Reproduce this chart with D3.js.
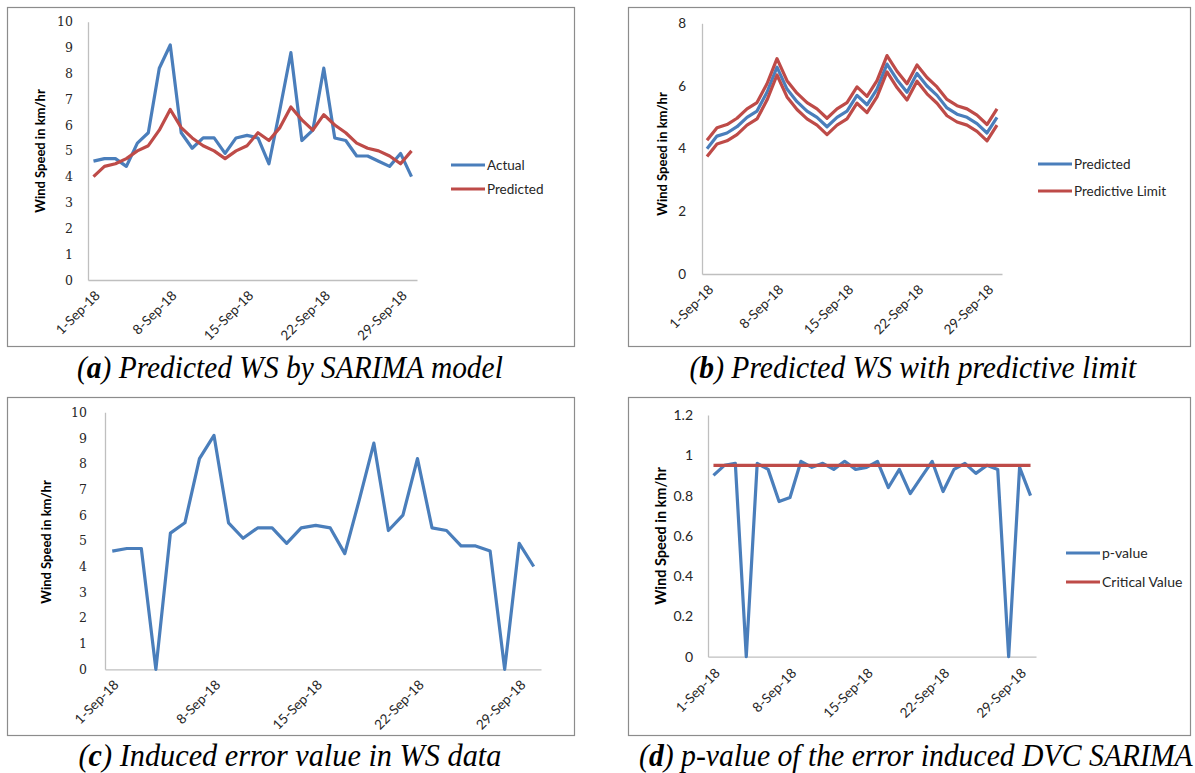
<!DOCTYPE html>
<html>
<head>
<meta charset="utf-8">
<script src="https://cdn.jsdelivr.net/npm/d3@7"></script>
<style>
  html, body { margin: 0; padding: 0; background: #ffffff; }
  svg { display: block; }
</style>
</head>
<body>
<svg id="fig" width="1195" height="773"></svg>
<script>
// ---- Data -------------------------------------------------------------
const dates = [
  "1-Sep-18", "2-Sep-18", "3-Sep-18", "4-Sep-18", "5-Sep-18", "6-Sep-18",
  "7-Sep-18", "8-Sep-18", "9-Sep-18", "10-Sep-18", "11-Sep-18", "12-Sep-18",
  "13-Sep-18", "14-Sep-18", "15-Sep-18", "16-Sep-18", "17-Sep-18", "18-Sep-18",
  "19-Sep-18", "20-Sep-18", "21-Sep-18", "22-Sep-18", "23-Sep-18", "24-Sep-18",
  "25-Sep-18", "26-Sep-18", "27-Sep-18", "28-Sep-18", "29-Sep-18", "30-Sep-18"
];
const dateTicks = ["1-Sep-18", "8-Sep-18", "15-Sep-18", "22-Sep-18", "29-Sep-18"];

// Observed wind speed (km/hr)
const actualWS = [4.6, 4.7, 4.7, 4.4, 5.3, 5.7, 8.2, 9.1, 5.7, 5.1,
                  5.5, 5.5, 4.9, 5.5, 5.6, 5.5, 4.5, 6.6, 8.8, 5.4,
                  5.8, 8.2, 5.5, 5.4, 4.8, 4.8, 4.6, 4.4, 4.9, 4.0];
// SARIMA forecast (km/hr)
const predictedWS = [4.0, 4.4, 4.5, 4.7, 5.0, 5.2, 5.8, 6.6, 5.9, 5.5,
                     5.2, 5.0, 4.7, 5.0, 5.2, 5.7, 5.4, 5.9, 6.7, 6.2,
                     5.8, 6.4, 6.0, 5.7, 5.3, 5.1, 5.0, 4.8, 4.5, 5.0];
// Upper and lower predictive limits
const upperLimit = [4.27, 4.67, 4.77, 4.97, 5.27, 5.47, 6.07, 6.87, 6.17, 5.77,
                    5.47, 5.27, 4.97, 5.27, 5.47, 5.97, 5.67, 6.17, 6.97, 6.47,
                    6.07, 6.67, 6.27, 5.97, 5.57, 5.37, 5.27, 5.07, 4.77, 5.27];
const lowerLimit = [3.75, 4.15, 4.25, 4.45, 4.75, 4.95, 5.55, 6.35, 5.65, 5.25,
                    4.95, 4.75, 4.45, 4.75, 4.95, 5.45, 5.15, 5.65, 6.45, 5.95,
                    5.55, 6.15, 5.75, 5.45, 5.05, 4.85, 4.75, 4.55, 4.25, 4.75];
// Wind speed series with induced errors (zeroed readings)
const errorInducedWS = [4.6, 4.7, 4.7, 0.0, 5.3, 5.7, 8.2, 9.1, 5.7, 5.1,
                        5.5, 5.5, 4.9, 5.5, 5.6, 5.5, 4.5, 6.6, 8.8, 5.4,
                        6.0, 8.2, 5.5, 5.4, 4.8, 4.8, 4.6, 0.0, 4.9, 4.0];
// DVC SARIMA p-values and critical value
const pValues = [0.90, 0.95, 0.96, 0.00, 0.96, 0.93, 0.77, 0.79, 0.97, 0.94,
                 0.96, 0.93, 0.97, 0.93, 0.94, 0.97, 0.84, 0.93, 0.81, 0.89,
                 0.97, 0.82, 0.93, 0.96, 0.91, 0.95, 0.93, 0.00, 0.94, 0.80];
const criticalValue = [0.95, 0.95, 0.95, 0.95, 0.95, 0.95, 0.95, 0.95, 0.95, 0.95,
                       0.95, 0.95, 0.95, 0.95, 0.95, 0.95, 0.95, 0.95, 0.95, 0.95,
                       0.95, 0.95, 0.95, 0.95, 0.95, 0.95, 0.95, 0.95, 0.95, 0.95];

const ticksWS10 = [0, 1, 2, 3, 4, 5, 6, 7, 8, 9, 10];
const ticksWS8 = [0, 2, 4, 6, 8];
const ticksP = [0, 0.2, 0.4, 0.6, 0.8, 1, 1.2];

// ---- Styling ----------------------------------------------------------
const BLUE = "#4a7ebb";
const RED = "#be4b48";
const AXIS = "#bfbfbf";
const FRAME = "#8c8c8c";
const SANS = "Lato, 'Open Sans', sans-serif";
const SERIF_DIGITS = "'DejaVu Serif', serif";

const svg = d3.select("#fig");

function drawPanel(o) {
  const g = svg.append("g");

  // outer frame
  g.append("rect")
    .attr("x", o.box[0] + 0.5).attr("y", o.box[1] + 0.5)
    .attr("width", o.box[2]).attr("height", o.box[3])
    .attr("fill", "none").attr("stroke", FRAME).attr("stroke-width", 1.2);

  const x = d3.scaleBand().domain(dates).range([o.plot.x0, o.plot.x1]).padding(0);
  const y = d3.scaleLinear().domain(o.yDomain).range([o.plot.yBot, o.plot.yTop]);
  const cx = d => x(d) + x.bandwidth() / 2;

  // y axis
  const yAxis = g.append("g")
    .attr("transform", `translate(${o.plot.x0},0)`)
    .call(d3.axisLeft(y).tickValues(o.yTicks).tickSize(0).tickSizeOuter(0)
      .tickPadding(o.yPad).tickFormat(o.yFormat));
  yAxis.select(".domain").attr("stroke", AXIS).attr("stroke-width", 1.3);
  yAxis.selectAll("text")
    .attr("font-family", o.yFont).attr("font-size", o.yFontSize).attr("fill", "#262626");

  // x axis
  const xAxis = g.append("g")
    .attr("transform", `translate(0,${o.plot.yBot})`)
    .call(d3.axisBottom(x).tickValues(dateTicks).tickSize(0).tickSizeOuter(0));
  xAxis.select(".domain").attr("stroke", AXIS).attr("stroke-width", 1.3);
  xAxis.selectAll("text")
    .attr("font-family", SANS).attr("font-size", 13.5).attr("fill", "#262626")
    .attr("text-anchor", "end")
    .attr("x", 0).attr("y", 0).attr("dy", "0.35em")
    .attr("transform", `translate(${o.xLab[0]},${o.xLab[1]}) rotate(-45)`);

  // axis title
  g.append("text")
    .attr("transform", `translate(${o.yTitle[0]},${o.yTitle[1]}) rotate(-90)`)
    .attr("text-anchor", "middle").attr("dy", "0.35em")
    .attr("font-family", SANS).attr("font-weight", "bold")
    .attr("font-size", o.yTitle[2]).attr("fill", "#000")
    .text("Wind Speed in km/hr");

  // series
  const line = d3.line().x((d, i) => cx(dates[i])).y(d => y(d));
  o.series.forEach(s => {
    g.append("path")
      .datum(s.values)
      .attr("d", line)
      .attr("fill", "none").attr("stroke", s.color)
      .attr("stroke-width", 3.2).attr("stroke-linejoin", "round");
  });

  // legend
  if (o.legend) {
    o.legend.items.forEach((it, k) => {
      const ly = o.legend.y + k * o.legend.gap;
      g.append("line")
        .attr("x1", o.legend.x).attr("x2", o.legend.x + 34)
        .attr("y1", ly).attr("y2", ly)
        .attr("stroke", it.color).attr("stroke-width", 3.2);
      g.append("text")
        .attr("x", o.legend.x + 36).attr("y", ly).attr("dy", "0.35em")
        .attr("font-family", SANS).attr("font-size", o.legend.size).attr("fill", "#262626")
        .text(it.label);
    });
  }

  // caption, fitted to its column width
  const cap = svg.append("text")
    .attr("y", o.caption.y)
    .attr("font-family", "'Liberation Serif', 'Times New Roman', Times, serif")
    .attr("font-style", "italic").attr("font-size", 31).attr("fill", "#000");
  cap.append("tspan").text("(");
  cap.append("tspan").attr("font-weight", "bold").text(o.caption.tag);
  cap.append("tspan").text(") " + o.caption.text);
  const w = cap.node().getComputedTextLength();
  const sx = o.caption.width / w;
  cap.attr("transform", `translate(${o.caption.cx - o.caption.width / 2},0) scale(${sx},1)`);
}

drawPanel({
  box: [7, 7, 567, 339],
  plot: { x0: 88, x1: 417, yTop: 21.7, yBot: 280 },
  yDomain: [0, 10], yTicks: ticksWS10, yFormat: d3.format("d"),
  yFont: SERIF_DIGITS, yFontSize: 12.5, yPad: 15,
  xLab: [4, 13],
  yTitle: [40, 151, 13],
  series: [{ values: actualWS, color: BLUE }, { values: predictedWS, color: RED }],
  legend: { x: 451, y: 165, gap: 24, size: 13.5,
            items: [{ label: "Actual", color: BLUE }, { label: "Predicted", color: RED }] },
  caption: { tag: "a", text: "Predicted WS by SARIMA model", cx: 290, y: 378, width: 426 }
});

drawPanel({
  box: [628, 7, 562, 339],
  plot: { x0: 702, x1: 1002, yTop: 23.3, yBot: 274 },
  yDomain: [0, 8], yTicks: ticksWS8, yFormat: d3.format("d"),
  yFont: SANS, yFontSize: 13.5, yPad: 16,
  xLab: [4, 13],
  yTitle: [662, 154, 13],
  series: [{ values: predictedWS, color: BLUE },
           { values: upperLimit, color: RED },
           { values: lowerLimit, color: RED }],
  legend: { x: 1038, y: 164, gap: 27, size: 13.5,
            items: [{ label: "Predicted", color: BLUE }, { label: "Predictive Limit", color: RED }] },
  caption: { tag: "b", text: "Predicted WS with predictive limit", cx: 913, y: 378, width: 447 }
});

drawPanel({
  box: [7, 397, 567, 338],
  plot: { x0: 105, x1: 541, yTop: 412.3, yBot: 669.3 },
  yDomain: [0, 10], yTicks: ticksWS10, yFormat: d3.format("d"),
  yFont: SERIF_DIGITS, yFontSize: 12.5, yPad: 18,
  xLab: [4, 13],
  yTitle: [46, 542, 13],
  series: [{ values: errorInducedWS, color: BLUE }],
  legend: null,
  caption: { tag: "c", text: "Induced error value in WS data", cx: 290, y: 766, width: 423 }
});

drawPanel({
  box: [628, 397, 562, 338],
  plot: { x0: 708, x1: 1036, yTop: 415, yBot: 656.7 },
  yDomain: [0, 1.2], yTicks: ticksP, yFormat: d => d3.format("")(+d.toFixed(1)),
  yFont: SANS, yFontSize: 14, yPad: 15,
  xLab: [4, 14],
  yTitle: [661, 536, 14.5],
  series: [{ values: pValues, color: BLUE }, { values: criticalValue, color: RED }],
  legend: { x: 1066, y: 553, gap: 29, size: 14,
            items: [{ label: "p-value", color: BLUE }, { label: "Critical Value", color: RED }] },
  caption: { tag: "d", text: "p-value of the error induced DVC SARIMA", cx: 916, y: 766, width: 554 }
});
</script>
</body>
</html>
